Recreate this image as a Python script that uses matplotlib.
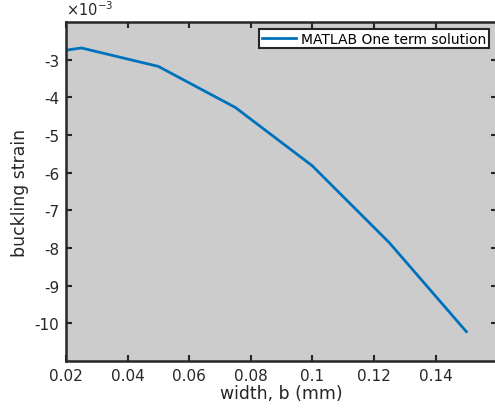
import numpy as np
import matplotlib
matplotlib.use("Agg")
import matplotlib.pyplot as plt

width_b = [0.02, 0.025, 0.05, 0.075, 0.1, 0.125, 0.15]
strain_e3 = [-2.75, -2.69, -3.18, -4.27, -5.82, -7.86, -10.22]
series_label = "MATLAB One term solution"

xticks = [0.02, 0.04, 0.06, 0.08, 0.1, 0.12, 0.14]
xtick_labels = ["0.02", "0.04", "0.06", "0.08", "0.1", "0.12", "0.14"]
yticks = [-10, -9, -8, -7, -6, -5, -4, -3]

txt = "#262626"
fig = plt.figure(figsize=(4.95, 4.10), dpi=100)
ax = fig.add_axes([0.1333, 0.117, 0.871, 0.827])
ax.set_facecolor("#cccccc")

ax.plot(width_b, strain_e3, color="#0072BD", lw=2, label=series_label)

ax.set_xlim(0.02, 0.16)
ax.set_ylim(-11, -2)
ax.set_xticks(xticks)
ax.set_xticklabels(xtick_labels)
ax.set_yticks(yticks)
ax.set_yticklabels([str(v) for v in yticks])
ax.tick_params(direction="in", top=True, right=True, length=4, width=1.5,
               labelsize=11, colors=txt, pad=5)
for s in ax.spines.values():
    s.set_linewidth(1.8)
    s.set_color(txt)

ax.set_xlabel("width, b (mm)", fontsize=12.4, color=txt, labelpad=1)
ax.set_ylabel("buckling strain", fontsize=12.4, color=txt, labelpad=4)
ax.text(0.0, 1.012, r"$\times10^{-3}$", transform=ax.transAxes, fontsize=10.5,
        color=txt, ha="left", va="bottom")

leg = ax.legend(loc="upper right", bbox_to_anchor=(0.988, 0.988), fontsize=10,
                frameon=True, fancybox=False, borderpad=0.2, handlelength=2.5,
                handletextpad=0.35, borderaxespad=0.2)
leg.get_frame().set_edgecolor(txt)
leg.get_frame().set_linewidth(1.5)
leg.get_frame().set_facecolor("white")
leg.get_frame().set_alpha(1)

fig.savefig("out.png", dpi=100)
